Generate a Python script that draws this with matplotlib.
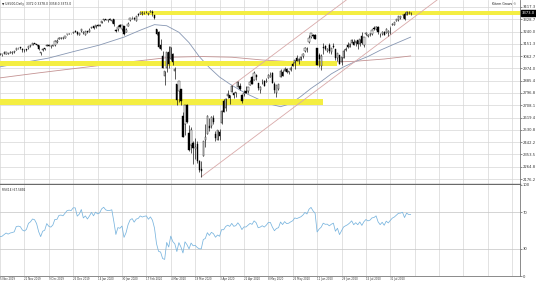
import numpy as np
import pandas as pd
import matplotlib
matplotlib.use("Agg")
import matplotlib.pyplot as plt

# US500 daily bars, 4 Nov 2019 .. 14 Aug 2020 (broker feed, has holiday bars + two Sunday bars in March)
opens = [3079, 3080, 3075, 3087, 3081, 3081, 3089, 3084, 3091, 3107,
         3118, 3128, 3115, 3108, 3112, 3118, 3135, 3145, 3154, 3147,
         3143, 3087, 3104, 3120, 3135, 3142, 3135, 3136, 3141, 3167,
         3183, 3195, 3195, 3192, 3223, 3226, 3225, 3227, 3247, 3240,
         3215, 3245, 3227, 3218, 3242, 3238, 3267, 3281, 3271, 3285,
         3283, 3302, 3324, 3328, 3321, 3330, 3316, 3333, 3248, 3255,
         3289, 3256, 3282, 3236, 3280, 3324, 3344, 3335, 3319, 3366,
         3370, 3365, 3378, 3380, 3370, 3380, 3380, 3360, 3258, 3238,
         3140, 3063, 2916, 2974, 3096, 3045, 3075, 2954, 2863, 2813,
         2825, 2631, 2570, 2711, 2508, 2425, 2437, 2394, 2431, 2305,
         2250, 2345, 2458, 2501, 2556, 2559, 2614, 2499, 2459, 2515,
         2579, 2739, 2685, 2776, 2782, 2805, 2796, 2799, 2843, 2846,
         2785, 2787, 2810, 2813, 2855, 2909, 2890, 2930, 2870, 2815,
         2868, 2884, 2878, 2908, 2915, 2939, 2865, 2794, 2829, 2914,
         2948, 2953, 2969, 2948, 2960, 3004, 3016, 3046, 3026, 3038,
         3064, 3098, 3111, 3163, 3199, 3213, 3213, 3124, 3071, 2993,
         3131, 3136, 3101, 3141, 3095, 3139, 3114, 3046, 3073, 3018,
         3050, 3105, 3143, 3132, 3155, 3166, 3154, 3176, 3152, 3206,
         3142, 3226, 3209, 3224, 3224, 3268, 3255, 3272, 3218, 3219,
         3234, 3228, 3232, 3270, 3288, 3289, 3318, 3324, 3341, 3357,
         3370, 3356, 3373, 3372]
highs = [3083, 3084, 3079, 3098, 3094, 3089, 3103, 3098, 3098, 3121,
         3125, 3128, 3118, 3111, 3113, 3134, 3142, 3155, 3156, 3150,
         3144, 3095, 3120, 3120, 3150, 3148, 3143, 3144, 3176, 3183,
         3198, 3198, 3199, 3206, 3226, 3228, 3226, 3240, 3248, 3241,
         3232, 3258, 3247, 3247, 3245, 3267, 3276, 3283, 3288, 3295,
         3298, 3317, 3330, 3331, 3329, 3337, 3326, 3334, 3259, 3286,
         3293, 3285, 3282, 3268, 3306, 3337, 3347, 3342, 3352, 3375,
         3381, 3385, 3381, 3387, 3375, 3394, 3393, 3360, 3259, 3247,
         3183, 3098, 2959, 3091, 3137, 3131, 3083, 2985, 2863, 2883,
         2825, 2660, 2711, 2715, 2563, 2553, 2453, 2474, 2454, 2310,
         2306, 2449, 2572, 2637, 2616, 2634, 2641, 2522, 2533, 2539,
         2677, 2757, 2760, 2819, 2783, 2852, 2801, 2807, 2880, 2868,
         2786, 2815, 2845, 2842, 2888, 2921, 2955, 2931, 2870, 2844,
         2898, 2892, 2902, 2932, 2945, 2945, 2875, 2853, 2865, 2968,
         2965, 2981, 2978, 2957, 2990, 3021, 3037, 3069, 3050, 3063,
         3082, 3131, 3129, 3212, 3233, 3222, 3224, 3124, 3089, 3080,
         3154, 3141, 3121, 3156, 3121, 3155, 3115, 3086, 3073, 3054,
         3112, 3128, 3165, 3156, 3183, 3184, 3172, 3180, 3187, 3236,
         3200, 3239, 3220, 3233, 3258, 3278, 3280, 3280, 3227, 3242,
         3243, 3264, 3250, 3272, 3302, 3307, 3331, 3352, 3353, 3364,
         3382, 3388, 3388, 3378]
lows = [3073, 3072, 3065, 3081, 3075, 3078, 3082, 3078, 3084, 3105,
        3114, 3113, 3091, 3095, 3097, 3117, 3131, 3143, 3148, 3139,
        3110, 3070, 3102, 3104, 3135, 3135, 3125, 3133, 3139, 3158,
        3183, 3188, 3190, 3191, 3216, 3221, 3220, 3227, 3235, 3216,
        3213, 3236, 3226, 3215, 3233, 3236, 3263, 3260, 3269, 3277,
        3280, 3302, 3318, 3320, 3312, 3320, 3302, 3281, 3234, 3243,
        3271, 3242, 3214, 3236, 3280, 3313, 3334, 3323, 3317, 3352,
        3369, 3360, 3368, 3377, 3356, 3379, 3354, 3328, 3215, 3119,
        3108, 2978, 2855, 2946, 2976, 3035, 2999, 2901, 2707, 2734,
        2707, 2478, 2493, 2580, 2380, 2367, 2281, 2319, 2295, 2230,
        2192, 2345, 2408, 2501, 2521, 2545, 2572, 2447, 2455, 2460,
        2575, 2657, 2664, 2762, 2721, 2805, 2761, 2765, 2843, 2821,
        2727, 2775, 2794, 2800, 2852, 2860, 2890, 2892, 2822, 2798,
        2863, 2845, 2873, 2906, 2912, 2869, 2794, 2766, 2821, 2914,
        2922, 2953, 2938, 2934, 2958, 2988, 2969, 3026, 3008, 3032,
        3052, 3091, 3091, 3160, 3197, 3194, 3186, 2999, 2985, 2966,
        3076, 3109, 3093, 3083, 3079, 3122, 3033, 3025, 3004, 2999,
        3048, 3099, 3124, 3130, 3155, 3142, 3137, 3116, 3136, 3150,
        3128, 3213, 3198, 3206, 3216, 3248, 3254, 3222, 3200, 3214,
        3216, 3228, 3205, 3220, 3284, 3288, 3317, 3317, 3329, 3335,
        3323, 3356, 3364, 3358]
closes = [3078, 3075, 3077, 3085, 3093, 3087, 3092, 3094, 3097, 3120,
          3122, 3120, 3108, 3104, 3110, 3134, 3141, 3154, 3152, 3141,
          3114, 3093, 3113, 3117, 3146, 3136, 3133, 3142, 3169, 3169,
          3191, 3193, 3191, 3205, 3221, 3224, 3223, 3240, 3240, 3221,
          3231, 3258, 3235, 3246, 3237, 3253, 3275, 3265, 3288, 3283,
          3289, 3317, 3330, 3323, 3321, 3322, 3326, 3295, 3244, 3276,
          3273, 3284, 3226, 3249, 3298, 3335, 3346, 3328, 3352, 3358,
          3379, 3374, 3380, 3383, 3370, 3386, 3373, 3338, 3226, 3128,
          3116, 2979, 2954, 3090, 3003, 3130, 3024, 2972, 2747, 2882,
          2741, 2481, 2711, 2590, 2386, 2529, 2398, 2409, 2305, 2240,
          2237, 2447, 2476, 2630, 2541, 2627, 2585, 2471, 2527, 2489,
          2664, 2659, 2750, 2790, 2762, 2846, 2783, 2800, 2875, 2823,
          2737, 2799, 2798, 2837, 2878, 2863, 2940, 2912, 2831, 2843,
          2868, 2848, 2881, 2930, 2930, 2870, 2820, 2853, 2864, 2954,
          2923, 2972, 2949, 2955, 2975, 2992, 3036, 3030, 3044, 3056,
          3081, 3123, 3112, 3194, 3232, 3207, 3190, 3002, 3041, 3067,
          3125, 3113, 3115, 3098, 3118, 3131, 3050, 3084, 3009, 3053,
          3100, 3116, 3130, 3152, 3180, 3145, 3170, 3152, 3185, 3155,
          3198, 3227, 3216, 3225, 3252, 3257, 3276, 3236, 3216, 3239,
          3218, 3258, 3246, 3271, 3295, 3307, 3328, 3349, 3351, 3360,
          3334, 3380, 3373, 3373]

# October 2019 closes and 1 Nov, only used to seed the RSI
warmup_closes = [2940, 2888, 2911, 2952, 2939, 2893, 2919, 2938, 2970, 2966, 2996, 2990,
                 2998, 2986, 3007, 2996, 3005, 3010, 3023, 3039, 3037, 3047, 3038, 3067]

date_labels = ["5 Nov 2019", "21 Nov 2019", "9 Dec 2019", "26 Dec 2019", "14 Jan 2020",
               "30 Jan 2020", "17 Feb 2020", "4 Mar 2020", "19 Mar 2020", "3 Apr 2020",
               "22 Apr 2020", "8 May 2020", "26 May 2020", "11 Jun 2020", "29 Jun 2020",
               "15 Jul 2020", "31 Jul 2020"]

# moving averages (bar index, price)
ma50_bars = [0, 12, 25, 37, 50, 62, 70, 77, 83, 89, 94, 99, 104, 109, 114, 119,
             124, 129, 134, 139, 144, 149, 154, 159, 164, 170, 176, 182, 188, 195, 203]
ma50_vals = [2983, 3015, 3049, 3095, 3143, 3200, 3250, 3290, 3282, 3235, 3160, 3060,
             2980, 2912, 2862, 2818, 2780, 2746, 2716, 2698, 2720, 2772, 2830, 2880,
             2935, 2985, 3025, 3060, 3105, 3150, 3200]
ma200_bars = [0, 20, 42, 64, 85, 100, 115, 130, 145, 160, 175, 190, 203]
ma200_vals = [2904, 2942, 2981, 3020, 3055, 3060, 3055, 3035, 3022, 3018, 3025, 3042, 3064]

# yellow zones
zone_start = [70, -5, -5]
zone_end = [260, 167, 160]
zone_low = [3360, 2992, 2710]
zone_high = [3392, 3028, 2750]

# up channel: anchor bar / price of lower and upper line, shared slope in points per bar
chan_bars = [100, 115]
chan_prices = [2192, 2848]
chan_slope = 11.0

price_ticks = [3417.3, 3328.7, 3240.0, 3151.3, 3062.7, 2974.0, 2885.4, 2796.8,
               2708.1, 2619.4, 2530.8, 2442.2, 2353.5, 2264.8, 2176.2]

assert len(opens) == len(highs) == len(lows) == len(closes)

W, H = 536, 284
GRID = '#d6d6d6'
fig = plt.figure(figsize=(W / 100, H / 100), dpi=100)
ax = fig.add_axes([0, 100 / H, 520 / W, 184 / H])
ax2 = fig.add_axes([0, 8 / H, 520 / W, 91 / H], sharex=ax)

o, h, l, c = (np.array(v, dtype=float) for v in (opens, highs, lows, closes))
x = np.arange(len(c))
label_bars = np.arange(1, 1 + 12 * len(date_labels), 12)
x_right = 256.8

# grid
for a in (ax, ax2):
    for v in np.arange(1, x_right, 12):
        a.axvline(v, color=GRID, lw=0.5, zorder=0)
for p in price_ticks:
    ax.axhline(p, color=GRID, lw=0.5, zorder=0)

# moving averages (under the zones, like on the screen)
ax.plot(ma200_bars, ma200_vals, color='#c49393', lw=0.6, zorder=0.8)
ax.plot(ma50_bars, ma50_vals, color='#8797b3', lw=0.6, zorder=0.8)

for s, e, lo, hi in zip(zone_start, zone_end, zone_low, zone_high):
    ax.fill_between([s, e], lo, hi, color='#f4ee42', lw=0, zorder=1)

# channel lines
for b, p in zip(chan_bars, chan_prices):
    ax.plot([b, 280], [p, p + chan_slope * (280 - b)], color='#d9a9a9', lw=0.6, zorder=1.5)

# candles
up = c >= o
ax.vlines(x, l, h, color='black', lw=0.45, zorder=2)
ax.bar(x, np.maximum(np.abs(c - o), 1.5), bottom=np.minimum(o, c), width=0.62,
       color=np.where(up, 'white', 'black'), edgecolor='black', linewidth=0.3, zorder=3)

ax.set_xlim(1.0, x_right)
ax.set_ylim(2140.2, 3467.8)
ax.yaxis.tick_right()
ax.set_yticks(price_ticks)
ax.set_yticklabels([f"{p:.1f}" for p in price_ticks])
ax.tick_params(axis='y', labelsize=2.7, length=1.2, width=0.4, pad=0.8, colors='#333333')
ax.tick_params(axis='x', bottom=False, labelbottom=False)
for side in ('left', 'top'):
    ax.spines[side].set_visible(False)
ax.spines['right'].set_color('#777777')
ax.spines['right'].set_linewidth(0.6)
ax.spines['bottom'].set_color('#6a6a6a')
ax.spines['bottom'].set_linewidth(1.0)

# last price tag
ax.annotate(f"{c[-1]:.1f}", xy=(1.0, c[-1]), xycoords=('axes fraction', 'data'),
            xytext=(1.2, 0), textcoords='offset points', fontsize=2.7, color='white',
            va='center', ha='left', annotation_clip=False,
            bbox=dict(boxstyle='square,pad=0.2', fc='black', ec='black'))

# RSI(14), Wilder smoothing
allc = pd.Series(warmup_closes + list(closes), dtype=float)
d = allc.diff()
gain = d.clip(lower=0).ewm(alpha=1 / 14, adjust=False).mean()
loss = (-d.clip(upper=0)).ewm(alpha=1 / 14, adjust=False).mean()
rsi = (100 - 100 / (1 + gain / loss)).to_numpy()[-len(c):]

ax2.plot(x, rsi, color='#78b4de', lw=0.55, zorder=2)
for lev in (30, 70):
    ax2.axhline(lev, color='#c4c4c4', lw=0.5, zorder=0.5)
ax2.set_ylim(0, 100)
ax2.yaxis.tick_right()
ax2.set_yticks([0, 30, 70, 100])
ax2.set_yticklabels(['0', '30', '70', '100'])
ax2.tick_params(axis='y', labelsize=2.7, length=1.2, width=0.4, pad=0.8, colors='#333333')
ax2.set_xticks(label_bars)
ax2.set_xticklabels(date_labels, ha='left')
ax2.tick_params(axis='x', labelsize=1.9, length=0, pad=1.0, colors='#333333')
ax2.spines['left'].set_visible(False)
ax2.spines['top'].set_visible(False)
for side in ('right', 'bottom'):
    ax2.spines[side].set_color('#777777')
    ax2.spines[side].set_linewidth(0.6)

fig.text(2 / W, 1 - 4 / H, f"\u25bc US500,Daily  {o[-1]:.1f} {h[-1]:.1f} {l[-1]:.1f} {c[-1]:.1f}",
         fontsize=2.2, va='center', color='#222222')
fig.text(517 / W, 1 - 4 / H, "Kitem Grows \u00a9", fontsize=2.3, ha='right', va='center', color='#222222')
fig.text(2 / W, 1 - 190 / H, f"RSI(14) {rsi[-1]:.4f}", fontsize=2.1, va='center', color='#222222')

fig.savefig("out.png", dpi=100)
